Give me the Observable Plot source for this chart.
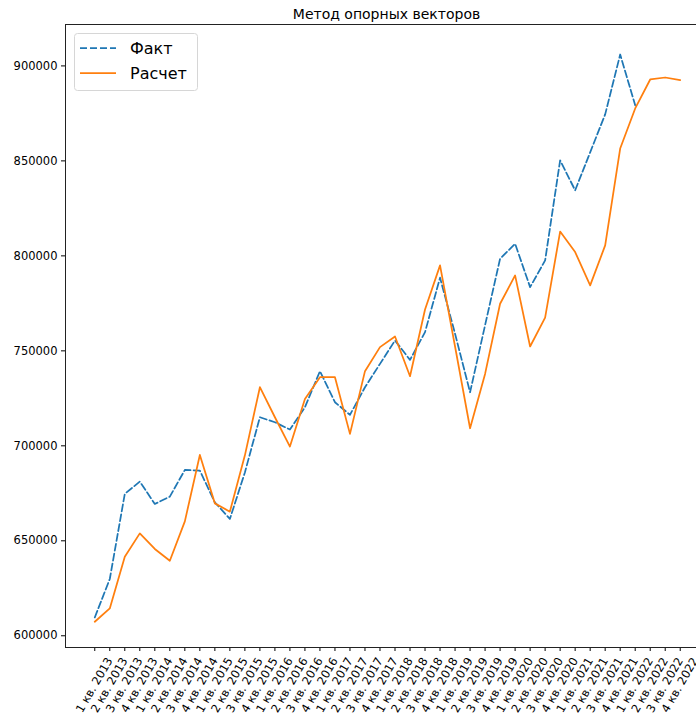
<!DOCTYPE html>
<html>
<head>
<meta charset="utf-8">
<script src="https://cdn.jsdelivr.net/npm/d3@7"></script>
<script src="https://cdn.jsdelivr.net/npm/@observablehq/plot@0.6"></script>
<style>
  html, body { margin: 0; padding: 0; background: white; }
  body { width: 696px; height: 717px; overflow: hidden; font-family: "DejaVu Sans", sans-serif; }
  #wrap { position: relative; width: 696px; height: 717px; overflow: hidden; }
  #title { position: absolute; left: 65px; width: 643px; top: 6px; text-align: center; font-size: 14px; line-height: 16px; color: #000; }
  #legend { position: absolute; left: 74px; top: 33px; }
</style>
</head>
<body>
<div id="wrap">
  <div id="chart"></div>
  <div id="title">Метод опорных векторов</div>
  <svg id="legend" width="124" height="58">
    <rect x="0.5" y="0.5" width="123" height="57" rx="3" fill="white" fill-opacity="0.8" stroke="#d6d6d6"></rect>
    <line x1="6" x2="42" y1="15" y2="15" stroke="#1f77b4" stroke-width="1.75" stroke-dasharray="7,3"></line>
    <line x1="6" x2="42" y1="40" y2="40" stroke="#ff7f0e" stroke-width="1.75"></line>
    <text x="56" y="15" dy="0.36em" font-family="DejaVu Sans" font-size="16" fill="#000">Факт</text>
    <text x="56" y="40" dy="0.36em" font-family="DejaVu Sans" font-size="16" fill="#000">Расчет</text>
  </svg>
</div>
<script>
const quarters = [
  "1 кв. 2013","2 кв. 2013","3 кв. 2013","4 кв. 2013",
  "1 кв. 2014","2 кв. 2014","3 кв. 2014","4 кв. 2014",
  "1 кв. 2015","2 кв. 2015","3 кв. 2015","4 кв. 2015",
  "1 кв. 2016","2 кв. 2016","3 кв. 2016","4 кв. 2016",
  "1 кв. 2017","2 кв. 2017","3 кв. 2017","4 кв. 2017",
  "1 кв. 2018","2 кв. 2018","3 кв. 2018","4 кв. 2018",
  "1 кв. 2019","2 кв. 2019","3 кв. 2019","4 кв. 2019",
  "1 кв. 2020","2 кв. 2020","3 кв. 2020","4 кв. 2020",
  "1 кв. 2021","2 кв. 2021","3 кв. 2021","4 кв. 2021",
  "1 кв. 2022","2 кв. 2022","3 кв. 2022","4 кв. 2022"
];
const fact = [
  609650, 629900, 674700, 681150, 669400, 673250, 687300, 686950,
  670250, 661500, 686000, 715050, 712400, 708550, 720300, 739300,
  722950, 716300, 730850, 743150, 755450, 745250, 759850, 788500,
  759000, 728200, 763500, 798500, 806400, 783550, 797600, 850300,
  834500, 854500, 874500, 906000, 879300
];
const calc = [
  607400, 614400, 641600, 653900, 645700, 639500, 660250, 695200,
  669700, 665350, 695000, 730850, 715050, 699600, 724700, 736100,
  736100, 706300, 739300, 751950, 757550, 736650, 771800, 795000,
  752300, 709250, 737850, 774800, 789700, 752300, 767450, 812800,
  802000, 784450, 805500, 856500, 877600, 892850, 893900, 892500
];
const yTicks = [600000, 650000, 700000, 750000, 800000, 850000, 900000];

const factData = fact.map((v, i) => ({i, v}));
const calcData = calc.map((v, i) => ({i, v}));

const chart = Plot.plot({
  width: 709,
  height: 717,
  marginLeft: 65,
  marginRight: 0,
  marginTop: 24,
  marginBottom: 70,
  style: {fontFamily: "DejaVu Sans", fontSize: "11.5px", color: "#000", background: "white", maxWidth: "none"},
  x: {
    type: "linear",
    domain: [-1.95, quarters.length - 1 + 1.95],
    ticks: quarters.map((_, i) => i),
    tickFormat: i => quarters[i],
    tickRotate: -60,
    tickSize: 4,
    tickPadding: 3,
    label: null
  },
  y: {
    domain: [593830, 921800],
    ticks: yTicks,
    tickFormat: d3.format("d"),
    tickSize: 4,
    tickPadding: 4,
    label: null
  },
  marks: [
    Plot.frame({stroke: "#222", strokeWidth: 1}),
    Plot.line(factData, {x: "i", y: "v", stroke: "#1f77b4", strokeWidth: 1.75, strokeDasharray: "7,3"}),
    Plot.line(calcData, {x: "i", y: "v", stroke: "#ff7f0e", strokeWidth: 1.75})
  ]
});
// matplotlib centres rotated tick labels on the tick; shift Plot's end-anchored labels accordingly
const qset = new Set(quarters);
chart.querySelectorAll("text").forEach(t => {
  if (qset.has(t.textContent.trim())) {
    const tr = t.getAttribute("transform") || "";
    t.setAttribute("transform", "translate(15,4) " + tr);
  }
});
document.getElementById("chart").appendChild(chart);
</script>
</body>
</html>
